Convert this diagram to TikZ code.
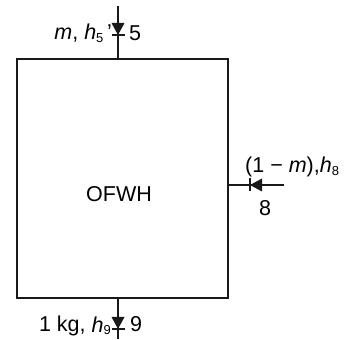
\documentclass[tikz,border=0pt]{standalone}
\usepackage{fontspec}
\setmainfont{Liberation Sans}
\newcommand{\sbs}[1]{\raisebox{-2.5pt}{\fontsize{13}{13}\selectfont #1}}
\begin{document}
\begin{tikzpicture}[x=1pt,y=1pt,
  line/.style={line width=1.5pt, draw=black!90},
  lbl/.style={font=\fontsize{21.5}{25}\selectfont, inner sep=0pt},
  valve/.pic={\fill[black!90] (0,0) -- (-6.5,12) -- (6.5,12) -- cycle;
              \draw[line width=1.5pt, black!90] (-6.5,0) -- (6.5,0);}]
\useasboundingbox (0,0) rectangle (347,339);
% heater box
\node[line, minimum width=211pt, minimum height=239pt, inner sep=0pt, anchor=south west] (box) at (16,40) {};
\node[lbl] (name) at (119,145) {OFWH};
% stream 5 (top)
\coordinate (t5) at (118,333);
\coordinate (b5) at (118,279);
\coordinate (v5) at (118,304);
\draw[line] (t5) -- (b5);
\pic at (v5) {valve};
\node[lbl, anchor=base east] (l5) at (112,299) {\textit{m}, \textit{h}\sbs{5}\,'};
\node[lbl, anchor=base west] (n5) at (129,298) {5};
% stream 8 (right)
\coordinate (e8) at (284,154);
\coordinate (s8) at (227,154);
\coordinate (v8) at (250,154);
\draw[line] (e8) -- (s8);
\pic[rotate=-90] at (v8) {valve};
\node[lbl, anchor=base west] (l8) at (245,166) {(1 \symbol{"2212} \textit{m}),\textit{h}\sbs{8}};
\node[lbl] (n8) at (265,131) {8};
% stream 9 (bottom)
\coordinate (t9) at (118,40);
\coordinate (b9) at (118,0);
\coordinate (v9) at (118,10);
\draw[line] (t9) -- (b9);
\pic at (v9) {valve};
\node[lbl, anchor=base east] (l9) at (111,7) {1 kg, \textit{h}\sbs{9}};
\node[lbl, anchor=base west] (n9) at (130,7) {9};
\end{tikzpicture}
\end{document}
